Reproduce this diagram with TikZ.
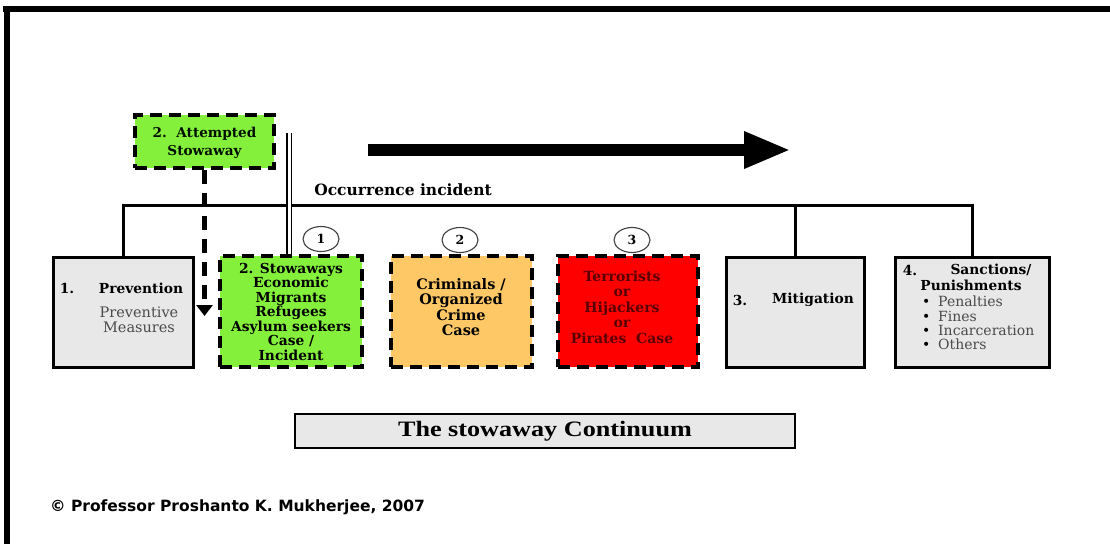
\documentclass[tikz,border=0pt]{standalone}
\usepackage{fontspec}
\setmainfont{DejaVu Serif}
\newfontfamily\credfont{DejaVu Sans}
\newfontfamily\titlefont[FakeStretch=1.19]{Liberation Serif}
\usetikzlibrary{arrows.meta,shapes.geometric}

\definecolor{boxgrey}{HTML}{E8E8E8}
\definecolor{lime}{HTML}{84F03C}
\definecolor{amber}{HTML}{FFC866}
\definecolor{alarm}{HTML}{FF0000}
\definecolor{bloodred}{HTML}{5A0000}
\definecolor{subgrey}{HTML}{4A4A4A}

\tikzset{
  solidbox/.style={draw=black, line width=3pt, fill=boxgrey, inner sep=0pt},
  dashbox/.style={draw=black, line width=3.5pt, dash pattern=on 12pt off 7pt, inner sep=0pt},
  treeline/.style={line width=3pt},
  numring/.style={ellipse, draw=black!75, line width=1.1pt, minimum width=36pt,
    minimum height=25pt, inner sep=0pt, font=\fontsize{12.5}{14}\selectfont\bfseries},
  boldtxt/.style={inner sep=0pt, align=center, font=\fontsize{13.8}{14.5}\selectfont\bfseries},
  greytxt/.style={inner sep=0pt, align=center, text=subgrey, font=\fontsize{14.5}{15}\selectfont},
}

\begin{document}
\begin{tikzpicture}[x=1pt,y=-1pt]
\useasboundingbox (0,0) rectangle (1110,544);
\fill[white] (0,0) rectangle (1110,544);

% frame
\fill[black] (3,6) rectangle (1110,12);
\fill[black] (4,6) rectangle (10,544);

% boxes
\node[dashbox, fill=lime, minimum width=139pt, minimum height=53pt] (att) at (204.5,141.5) {};
\node[solidbox, minimum width=140pt, minimum height=110pt] (prev) at (123,312) {};
\node[dashbox, fill=lime, minimum width=142pt, minimum height=111pt] (stow) at (291,311.5) {};
\node[dashbox, fill=amber, minimum width=141pt, minimum height=111pt] (crim) at (461.5,311.5) {};
\node[dashbox, fill=alarm, minimum width=140pt, minimum height=111pt] (terr) at (628,311.5) {};
\node[solidbox, minimum width=138pt, minimum height=110pt] (mit) at (795,312) {};
\node[solidbox, minimum width=154pt, minimum height=110pt] (sanc) at (972,312) {};
\node[solidbox, line width=2.5pt, minimum width=500pt, minimum height=34pt] (cont) at (545,431)
  {\titlefont\fontsize{22}{24}\selectfont\bfseries The stowaway Continuum};

% occurrence bar
\coordinate (bar) at (0,205);
\draw[treeline] (prev.north) -- (prev.north |- bar) -- (sanc.north |- bar) -- (sanc.north);
\draw[treeline] (mit.north |- bar) -- (mit.north);
\node[boldtxt, font=\fontsize{15.5}{16}\selectfont\bfseries] (occ) at (403,190) {Occurrence incident};

% attempted stowaway drops down
\coordinate (atip) at (0,316);
\draw[line width=4.5pt, dash pattern=on 14pt off 9pt, -{Triangle[length=11pt,width=16pt]}]
  (att.south) -- (att.south |- atip);

% double rule into the stowaway case
\coordinate (dtop) at (289,133);
\draw[double, double distance=3pt, line width=1.1pt] (dtop) -- (dtop |- stow.north);

% direction arrow
\coordinate (fs) at (368,150);
\coordinate (fe) at (791,150);
\draw[line width=12pt, -{Triangle[length=47pt,width=34pt]}] (fs) -- (fe);

% numbered rings
\node[numring] (n1) at (321,239) {1};
\node[numring] (n2) at (460,240) {2};
\node[numring] (n3) at (632,240) {3};

% texts
\node[boldtxt, font=\fontsize{13.6}{18}\selectfont\bfseries, text=black!85!green!40!black] (attT) at (204.5,143) {2.\ \ Attempted\\Stowaway};

\node[boldtxt] (p1) at (67,288) {1.};
\node[boldtxt] (p2) at (141,288) {Prevention};
\node[greytxt] (p3) at (139,319.5) {Preventive\\Measures};

\node[boldtxt] (stowT) at (291,311.5) {2. Stowaways\\Economic\\Migrants\\Refugees\\Asylum seekers\\Case /\\Incident};

\node[boldtxt, font=\fontsize{14.5}{15.6}\selectfont\bfseries] (crimT) at (461,307) {Criminals /\\Organized\\Crime\\Case};

\node[boldtxt, text=bloodred, font=\fontsize{14}{15.5}\selectfont\bfseries] (terrT) at (622,307) {Terrorists\\or\\Hijackers\\or\\Pirates\ \ Case};

\node[boldtxt] (m1) at (740,300) {3.};
\node[boldtxt] (m2) at (813,300) {Mitigation};

\node[boldtxt] (s1) at (910,270) {4.};
\node[boldtxt] (s2) at (991,270) {Sanctions/};
\node[boldtxt] (s3) at (971,285) {Punishments};
\node[greytxt, align=left, anchor=west, font=\fontsize{14}{14.2}\selectfont] (s4) at (922,323)
  {\makebox[16pt][l]{\textcolor{black}{•}}Penalties\\
   \makebox[16pt][l]{\textcolor{black}{•}}Fines\\
   \makebox[16pt][l]{\textcolor{black}{•}}Incarceration\\
   \makebox[16pt][l]{\textcolor{black}{•}}Others};

\node[inner sep=0pt, anchor=west, font=\credfont\fontsize{15.5}{17}\selectfont\bfseries] (cred) at (50,507)
  {© Professor Proshanto K. Mukherjee, 2007};
\end{tikzpicture}
\end{document}
